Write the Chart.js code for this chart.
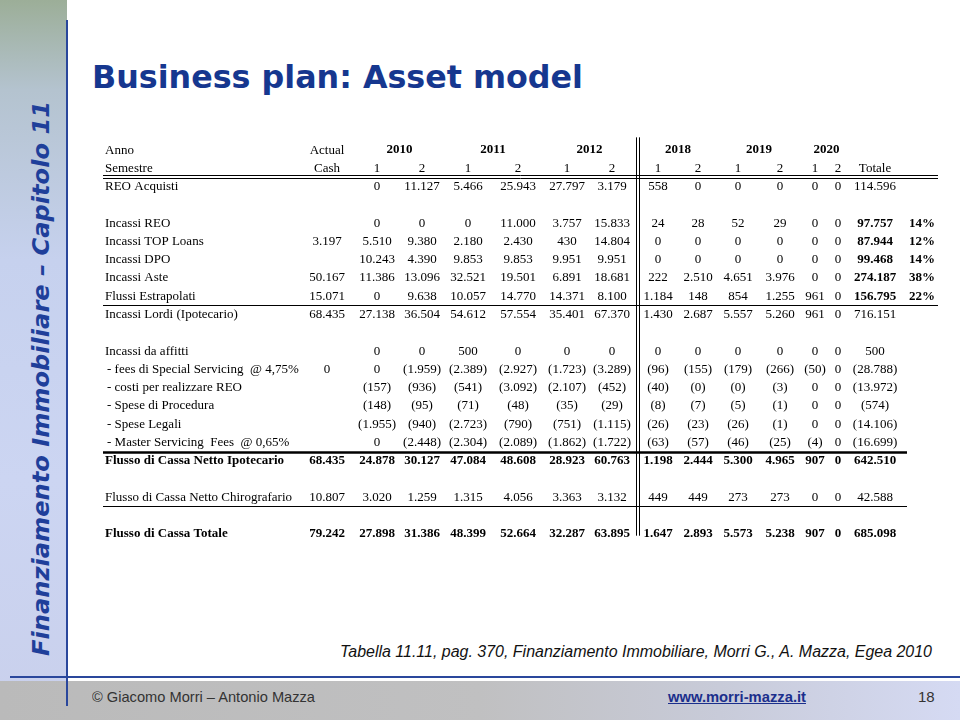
<!DOCTYPE html>
<html>
<head>
<meta charset="utf-8">
<script src="https://cdn.jsdelivr.net/npm/chart.js@4.4.1/dist/chart.umd.min.js"></script>
<style>
  body { margin: 0; width: 960px; height: 720px; overflow: hidden; background: #fff; position: relative; }
  .abs { position: absolute; white-space: nowrap; }
  #lato { left: 0; top: 0; width: 67px; height: 720px;
    background: linear-gradient(to bottom, #9cae98 0px, #b4c3cf 90px, #c6d1ee 260px, #ccd5f2 480px, #c9d0ec 720px); }
  #piede { left: 0; top: 681px; width: 960px; height: 39px;
    background: linear-gradient(to right, #bababa 0%, #c0c0c1 50%, #c8cbd9 75%, #d5daf3 100%); }
  #lineaV { left: 66px; top: 20px; width: 2px; height: 686px; background: #2a479c; }
  #lineaH { left: 10px; top: 676px; width: 950px; height: 2px; background: #2a479c; }
  #titolo { left: 92px; top: 59px; font: bold 32px "DejaVu Sans", sans-serif; color: #16378f; line-height: 36px; transform-origin: left center; }
  #capitolo { left: 0; top: 0; font: bold italic 23px "DejaVu Sans", sans-serif; color: #1f3f9a; line-height: 26px; transform-origin: 0 0; }
  #fonte { left: 340px; top: 642px; font: italic 16px "Liberation Sans", Arial, sans-serif; color: #111; line-height: 20px; transform-origin: left center; }
  #autori { left: 92px; top: 688px; font: 15px "Liberation Sans", Arial, sans-serif; color: #333; line-height: 18px; transform-origin: left center; }
  #sito { left: 668px; top: 688px; font: bold 15px "Liberation Sans", Arial, sans-serif; color: #1b2f8c; text-decoration: underline; line-height: 18px; transform-origin: left center; }
  #pagina { left: 918px; top: 688px; font: 15px "Liberation Sans", Arial, sans-serif; color: #333; line-height: 18px; }
  #tabella { position: absolute; left: 0; top: 0; }
</style>
</head>
<body>
<div id="lato" class="abs"></div>
<div id="piede" class="abs"></div>
<div id="lineaV" class="abs"></div>
<div id="lineaH" class="abs"></div>
<div id="capitolo" class="abs">Finanziamento Immobiliare – Capitolo 11</div>
<div id="titolo" class="abs">Business plan: Asset model</div>
<div id="fonte" class="abs">Tabella 11.11, pag. 370, Finanziamento Immobiliare, Morri G., A. Mazza, Egea 2010</div>
<div id="autori" class="abs">© Giacomo Morri – Antonio Mazza</div>
<div id="sito" class="abs">www.morri-mazza.it</div>
<div id="pagina" class="abs">18</div>
<canvas id="tabella" width="960" height="720"></canvas>
<script>
// colonne: Actual Cash, 2010-1 .. 2020-2, Totale, %
const anni = ['2010', '2011', '2012', '2018', '2019', '2020'];
const semestri = ['1', '2', '1', '2', '1', '2', '1', '2', '1', '2', '1', '2'];

const reoAcquisti      = [null, 0, 11127, 5466, 25943, 27797, 3179, 558, 0, 0, 0, 0, 0, 114596, null];
const incassiReo       = [null, 0, 0, 0, 11000, 3757, 15833, 24, 28, 52, 29, 0, 0, 97757, 14];
const incassiTop       = [3197, 5510, 9380, 2180, 2430, 430, 14804, 0, 0, 0, 0, 0, 0, 87944, 12];
const incassiDpo       = [null, 10243, 4390, 9853, 9853, 9951, 9951, 0, 0, 0, 0, 0, 0, 99468, 14];
const incassiAste      = [50167, 11386, 13096, 32521, 19501, 6891, 18681, 222, 2510, 4651, 3976, 0, 0, 274187, 38];
const flussiEstrap     = [15071, 0, 9638, 10057, 14770, 14371, 8100, 1184, 148, 854, 1255, 961, 0, 156795, 22];
const incassiLordi     = [68435, 27138, 36504, 54612, 57554, 35401, 67370, 1430, 2687, 5557, 5260, 961, 0, 716151, null];
const incassiAffitti   = [null, 0, 0, 500, 0, 0, 0, 0, 0, 0, 0, 0, 0, 500, null];
const feesSpecial      = [0, 0, -1959, -2389, -2927, -1723, -3289, -96, -155, -179, -266, -50, 0, -28788, null];
const costiReo         = [null, -157, -936, -541, -3092, -2107, -452, -40, -0, -0, -3, 0, 0, -13972, null];
const speseProcedura   = [null, -148, -95, -71, -48, -35, -29, -8, -7, -5, -1, 0, 0, -574, null];
const speseLegali      = [null, -1955, -940, -2723, -790, -751, -1115, -26, -23, -26, -1, 0, 0, -14106, null];
const masterServicing  = [null, 0, -2448, -2304, -2089, -1862, -1722, -63, -57, -46, -25, -4, 0, -16699, null];
const nettoIpotecario  = [68435, 24878, 30127, 47084, 48608, 28923, 60763, 1198, 2444, 5300, 4965, 907, 0, 642510, null];
const nettoChirograf   = [10807, 3020, 1259, 1315, 4056, 3363, 3132, 449, 449, 273, 273, 0, 0, 42588, null];
const cassaTotale      = [79242, 27898, 31386, 48399, 52664, 32287, 63895, 1647, 2893, 5573, 5238, 907, 0, 685098, null];

// righe della tabella (null = riga vuota)
const righe = [
  { label: 'REO Acquisti', data: reoAcquisti },
  null,
  { label: 'Incassi REO', data: incassiReo },
  { label: 'Incassi TOP Loans', data: incassiTop },
  { label: 'Incassi DPO', data: incassiDpo },
  { label: 'Incassi Aste', data: incassiAste },
  { label: 'Flussi Estrapolati', data: flussiEstrap },
  { label: 'Incassi Lordi (Ipotecario)', data: incassiLordi },
  null,
  { label: 'Incassi da affitti', data: incassiAffitti },
  { label: ' - fees di Special Servicing  @ 4,75%', data: feesSpecial },
  { label: ' - costi per realizzare REO', data: costiReo },
  { label: ' - Spese di Procedura', data: speseProcedura },
  { label: ' - Spese Legali', data: speseLegali },
  { label: ' - Master Servicing  Fees  @ 0,65%', data: masterServicing },
  { label: 'Flusso di Cassa Netto Ipotecario', data: nettoIpotecario, bold: true },
  null,
  { label: 'Flusso di Cassa Netto Chirografario', data: nettoChirograf },
  null,
  { label: 'Flusso di Cassa Totale', data: cassaTotale, bold: true }
];

// layout (pixel della pagina)
const colX = [327, 377, 422, 468, 518, 567, 612, 658, 698, 738, 780, 815, 838, 875, 922];
const labelX = 105;
const primaRiga = 2; // due righe di intestazione

function fmt(v, col) {
  if (v === null || v === undefined) return '';
  if (col === 14) return v + '%';
  const neg = v < 0 || Object.is(v, -0);
  const s = String(Math.abs(v)).replace(/\B(?=(\d{3})+(?!\d))/g, '.');
  return neg ? '(' + s + ')' : s;
}

const datasets = righe.map(function (r, i) {
  if (!r) return { data: [] };
  const punti = [];
  r.data.forEach(function (v, c) {
    if (v !== null) punti.push({ x: colX[c], y: i + primaRiga, v: v, c: c });
  });
  return { label: r.label, data: punti, bold: r.bold, pointRadius: 0 };
});

const serif = '"Liberation Serif", "Times New Roman", serif';

const testoCelle = {
  id: 'testoCelle',
  afterDatasetsDraw(chart) {
    const ctx = chart.ctx;
    const x = chart.scales.x, y = chart.scales.y;
    ctx.save();
    ctx.fillStyle = '#000';
    ctx.textBaseline = 'middle';

    // linee
    ctx.strokeStyle = '#000';
    function hLine(r, x2, w) {
      ctx.lineWidth = w;
      const py = Math.round(y.getPixelForValue(r)) + 0.5;
      ctx.beginPath(); ctx.moveTo(x.getPixelForValue(103), py); ctx.lineTo(x.getPixelForValue(x2), py); ctx.stroke();
    }
    ctx.lineWidth = 1;
    const yd = Math.round(y.getPixelForValue(1.5));
    ctx.beginPath();
    ctx.moveTo(103, yd - 2.5); ctx.lineTo(938, yd - 2.5);
    ctx.moveTo(103, yd + 0.5); ctx.lineTo(938, yd + 0.5);
    ctx.stroke();
    hLine(8.5, 938, 1.2);
    hLine(16.5, 907, 2.5);
    hLine(19.5, 907, 1.2);
    ctx.lineWidth = 1;
    const xv = x.getPixelForValue(636);
    ctx.beginPath();
    ctx.moveTo(xv + 0.5, y.getPixelForValue(-0.7)); ctx.lineTo(xv + 0.5, y.getPixelForValue(21.1));
    ctx.moveTo(xv + 3.5, y.getPixelForValue(-0.7)); ctx.lineTo(xv + 3.5, y.getPixelForValue(21.1));
    ctx.stroke();

    // intestazioni
    ctx.font = '13px ' + serif;
    ctx.textAlign = 'left';
    ctx.fillText('Anno', labelX, y.getPixelForValue(0));
    ctx.fillText('Semestre', labelX, y.getPixelForValue(1));
    ctx.textAlign = 'center';
    ctx.fillText('Actual', x.getPixelForValue(colX[0]), y.getPixelForValue(0));
    ctx.fillText('Cash', x.getPixelForValue(colX[0]), y.getPixelForValue(1));
    ctx.fillText('Totale', x.getPixelForValue(colX[13]), y.getPixelForValue(1));
    semestri.forEach(function (s, i) {
      ctx.fillText(s, x.getPixelForValue(colX[i + 1]), y.getPixelForValue(1));
    });
    ctx.font = 'bold 13px ' + serif;
    anni.forEach(function (a, i) {
      const cx = (colX[2 * i + 1] + colX[2 * i + 2]) / 2;
      ctx.fillText(a, x.getPixelForValue(cx), y.getPixelForValue(0));
    });

    // celle
    chart.data.datasets.forEach(function (ds, i) {
      if (!ds.label) return;
      const meta = chart.getDatasetMeta(i);
      ctx.textAlign = 'left';
      ctx.font = (ds.bold ? 'bold ' : '') + '13px ' + serif;
      ctx.fillText(ds.label.trim(), labelX + (ds.label[0] === ' ' ? 2 : 0), y.getPixelForValue(i + primaRiga));
      ctx.textAlign = 'center';
      meta.data.forEach(function (el, k) {
        const p = ds.data[k];
        const grassetto = ds.bold || (p.c >= 13 && i >= 2 && i <= 6);
        ctx.font = (grassetto ? 'bold ' : '') + '13px ' + serif;
        ctx.fillText(fmt(p.v, p.c), el.x, el.y);
      });
    });
    ctx.restore();
  }
};

new Chart(document.getElementById('tabella'), {
  type: 'scatter',
  data: { datasets: datasets },
  options: {
    responsive: false,
    animation: false,
    events: [],
    layout: { padding: { left: 0, right: 0, top: 141, bottom: 177 } },
    plugins: { legend: { display: false }, tooltip: { enabled: false } },
    scales: {
      x: { type: 'linear', display: false, min: 0, max: 960 },
      y: { type: 'linear', display: false, reverse: true, min: -0.5, max: 21.5 }
    }
  },
  plugins: [testoCelle]
});

// adattamento dei testi della pagina
function adatta(id, larghezza) {
  const el = document.getElementById(id);
  const w = el.getBoundingClientRect().width;
  el.style.transform = 'scaleX(' + (larghezza / w) + ')';
}
adatta('titolo', 491);
adatta('fonte', 592);
adatta('autori', 223);
adatta('sito', 138);

const cap = document.getElementById('capitolo');
const cw = cap.getBoundingClientRect().width;
const ch = cap.getBoundingClientRect().height;
cap.style.transform = 'translate(' + (41 - ch / 2) + 'px, 656px) rotate(-90deg) scaleX(' + (555 / cw) + ')';
</script>
</body>
</html>
